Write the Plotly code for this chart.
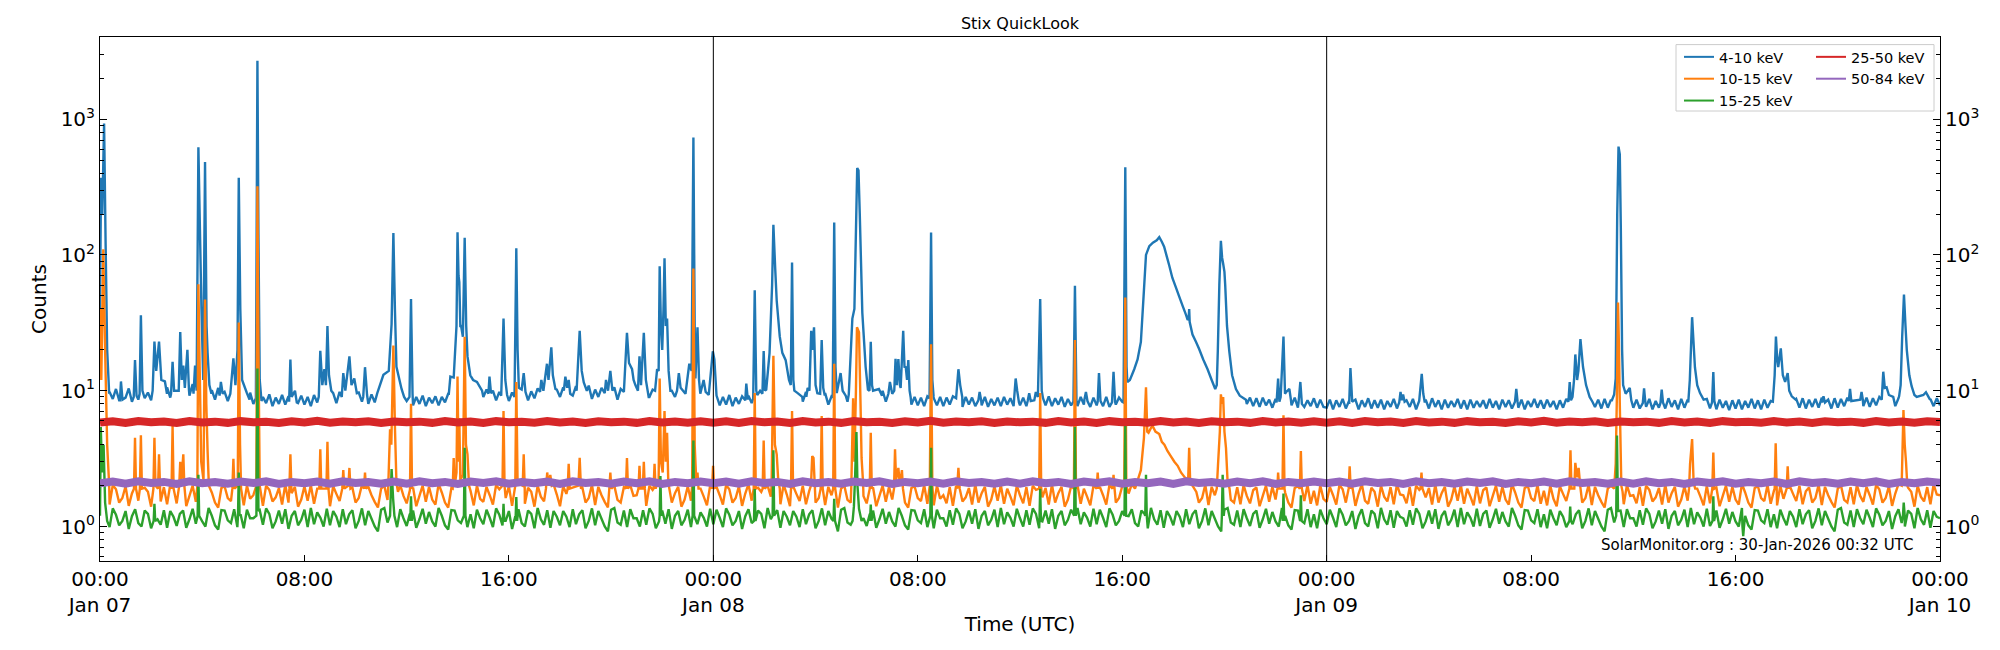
import numpy as np
import pandas as pd
import plotly.graph_objects as go

START = pd.Timestamp("2026-01-07 00:00")
FINE_H = 0.125    # quiet-level sampling for 4-10, 10-15, 15-25 keV
COARSE_H = 0.5    # quiet-level sampling for 25-50, 50-84 keV

# ---------------- 4-10 keV quiet level, every 7.5 min (rows of 3 h) ----------------
blue_base = [
 9.0,10.1,8.4,9.8,8.7,10.3,8.5,9.6,8.9,10.4,8.3,9.9,8.6,10.2,8.8,9.7,8.5,10.5,9.0,11.0,9.4,10.6,8.9,10.2,
 9.1,10.8,8.7,10.0,9.2,11.2,8.9,10.4,9.3,10.7,8.8,10.1,8.6,10.5,8.9,9.8,8.4,10.2,8.7,9.9,8.5,10.0,8.6,9.7,
 8.0,9.2,7.8,9.0,8.1,9.4,7.7,8.9,8.0,9.3,7.9,9.1,7.8,8.8,8.1,9.2,7.9,9.0,7.7,9.3,8.2,9.1,7.8,8.9,
 8.3,9.6,8.1,9.8,8.5,9.5,8.2,10.0,8.6,9.7,8.3,9.9,8.0,9.4,8.2,9.6,7.9,9.3,8.3,9.8,8.7,10.4,9.2,10.8,
 8.4,9.3,7.8,9.0,8.0,9.2,7.7,8.9,8.1,9.1,7.8,9.0,8.2,9.5,10.2,12.0,10.8,12.5,10.4,11.8,10.0,11.4,9.6,10.8,
 9.0,10.2,8.7,10.0,8.5,9.8,8.8,10.1,8.4,9.7,8.6,10.3,8.9,10.0,8.5,9.9,8.8,10.4,9.2,10.9,9.0,10.6,9.4,10.2,
 9.0,10.6,8.8,10.3,9.2,10.8,8.9,10.4,9.4,10.9,8.7,10.2,9.0,10.5,8.8,10.0,9.1,10.6,8.6,10.3,8.9,10.7,9.2,10.4,
 8.8,10.1,8.6,10.5,9.0,10.2,8.7,9.9,8.9,10.4,8.6,10.0,9.0,10.6,8.8,10.3,8.7,10.1,8.9,10.5,8.8,10.2,9.0,10.4,
 8.3,9.2,7.8,9.0,7.9,9.3,7.7,8.9,8.0,9.1,7.8,9.2,8.1,9.0,7.9,9.3,7.8,8.9,8.0,9.2,8.3,9.6,8.6,9.9,
 8.4,9.7,8.5,9.5,8.3,9.8,8.1,9.4,8.0,9.2,8.2,9.6,7.9,9.1,8.1,9.4,8.0,9.5,8.3,9.7,8.4,9.9,8.7,10.3,
 8.6,9.9,8.4,9.7,8.5,10.0,8.3,9.6,8.6,9.8,8.4,9.5,8.2,9.4,7.9,9.0,7.8,8.9,7.7,9.1,7.9,8.8,7.8,9.0,
 7.7,8.9,7.9,9.1,7.8,8.8,7.6,9.0,7.9,8.9,7.7,8.8,7.8,9.0,7.6,8.7,7.8,8.9,7.7,9.0,7.9,8.8,7.7,8.9,
 7.8,8.9,7.7,9.0,7.9,8.8,7.6,8.9,7.8,9.1,7.7,8.8,7.9,9.0,7.6,8.7,7.8,8.9,7.7,9.0,7.9,8.8,7.6,8.9,
 7.8,8.7,7.7,9.0,7.6,8.8,7.9,8.9,8.3,9.0,9.0,9.0,9.0,9.0,9.0,9.0,9.0,9.0,9.0,9.0,9.0,9.0,9.0,9.0,
 9.0,9.0,9.0,9.0,9.0,9.0,9.0,9.0,9.0,9.0,9.0,9.0,9.0,9.0,9.0,9.0,9.0,9.0,9.0,9.0,9.0,9.0,9.0,8.0,
 8.9,7.7,8.8,7.6,8.9,7.8,8.6,7.5,8.7,7.7,8.8,7.6,8.6,7.8,8.9,7.5,8.7,7.6,8.5,7.7,8.8,7.5,8.6,7.6,
 7.5,8.6,7.3,8.5,7.6,8.7,7.4,8.4,7.5,8.6,7.3,8.5,7.6,8.8,7.4,8.5,7.5,8.6,7.3,8.4,7.6,8.7,7.4,8.5,
 7.4,8.5,7.6,8.7,7.3,8.4,7.5,8.6,7.4,8.8,7.6,8.5,7.3,8.6,7.5,8.4,7.6,8.7,7.4,8.5,7.3,8.6,7.5,8.4,
 7.6,8.5,7.4,8.7,7.5,8.4,7.3,8.6,7.6,8.5,7.4,8.8,7.5,8.6,7.3,8.4,7.6,8.7,7.5,8.5,7.4,8.6,7.6,8.4,
 7.3,8.5,7.5,8.7,7.4,8.6,7.6,8.4,7.5,8.8,7.3,8.5,7.6,8.6,7.4,8.7,7.5,8.6,7.7,8.9,7.8,9.1,8.0,8.8,
 7.5,8.6,7.4,8.5,7.6,8.7,7.3,8.4,7.5,8.6,7.4,8.8,7.6,8.5,7.3,8.7,7.5,8.6,7.7,8.9,7.6,8.8,7.8,8.7,
 7.4,8.5,7.3,8.6,7.5,8.4,7.2,8.5,7.4,8.6,7.3,8.4,7.5,8.7,7.4,8.5,7.3,8.6,7.5,8.4,7.4,8.7,7.6,8.6,
 7.8,9.0,7.6,8.7,7.5,8.8,7.4,8.6,7.6,8.7,7.5,8.9,7.6,8.6,7.4,8.8,7.5,8.7,7.7,8.9,7.6,8.8,7.8,8.7,
 7.7,8.9,7.6,8.8,7.8,9.0,7.7,8.9,7.9,9.1,7.7,8.8,7.6,8.9,7.8,8.7,7.7,9.0,7.8,8.9,7.6,8.7,7.7,8.8,
 7.8]

# ---------------- 10-15 keV quiet level (3 h blocks, every 7.5 min) ----------------
oA = [1.52,1.96,1.7,1.45,2.02,1.88,1.5,1.62,1.98,1.42,1.75,2.05,1.55,1.47,1.93,1.8,1.4,2.0,1.66,1.53,1.95,1.46,2.04,1.72]
oB = [1.48,1.85,1.94,1.41,1.68,2.0,1.52,1.96,1.58,1.45,2.06,1.78,1.5,1.38,1.92,1.98,1.62,1.54,2.02,1.47,1.83,1.43,2.0,1.6]
oC = [1.7,1.48,1.95,1.42,2.0,1.86,1.53,1.64,1.92,1.45,2.04,1.5,1.76,1.96,1.4,1.58,1.98,1.55,2.02,1.47,1.9,1.66,1.43,2.0]
oD = [1.41,1.98,1.74,1.54,2.0,1.46,1.82,1.94,1.5,1.62,2.03,1.44,1.96,1.7,1.52,1.38,1.9,2.0,1.57,1.5,1.95,1.46,2.02,1.68]
orange_base = (oA + oB + oC + oD + oB + oA + oD + oC + oA + oD + oB + oC + oC + oA + oD + oB
               + oA + oC + oB + oD + oC + oB + oD + oA + [1.7])

# ---------------- 15-25 keV quiet level (3 h blocks, every 7.5 min) ----------------
gA = [1.04,1.33,1.16,0.99,1.36,1.22,1.02,1.1,1.3,0.96,1.19,1.34,1.06,1.0,1.31,1.24,0.97,1.37,1.13,1.03,1.32,0.98,1.3,1.18]
gB = [1.01,1.24,1.31,0.98,1.13,1.35,1.05,1.28,1.09,1.0,1.37,1.2,1.02,0.95,1.32,1.31,1.11,1.06,1.34,0.99,1.23,0.97,1.33,1.15]
gC = [1.15,1.0,1.32,1.03,1.36,1.24,0.97,1.09,1.31,1.05,1.34,0.96,1.2,1.3,1.02,1.12,1.33,0.99,1.37,1.04,1.27,1.16,1.0,1.35]
gD = [1.02,1.3,1.18,0.99,1.34,1.04,1.23,1.32,0.97,1.1,1.36,1.02,1.3,1.14,1.0,0.92,1.33,1.37,1.07,1.03,1.31,0.99,1.34,1.15]
green_base = (gA + gB + gC + gD + gB + gA + gD + gC + gA + gD + gB + gC + gC + gA + gD + gB
              + gA + gC + gB + gD + gC + gB + gD + gA + [1.15])

# ---------------- 25-50 keV and 50-84 keV quiet level, every 30 min (12 h blocks) ----------------
rA = [5.82,5.96,5.78,5.98,5.85,5.93,5.79,5.99,5.84,5.92,5.8,5.97,5.86,5.91,5.79,5.96,5.83,6.0,5.81,5.93,5.85,5.95,5.78,5.94]
rB = [5.85,5.92,5.8,5.98,5.84,5.94,5.79,5.97,5.87,5.91,5.81,5.99,5.83,5.93,5.79,5.96,5.86,5.92,5.8,5.98,5.84,5.93,5.81,5.95]
red_base = rA + rB + rA + rB + rA + rB + [5.88]
pA = [2.08,2.14,2.07,2.15,2.09,2.13,2.06,2.15,2.08,2.13,2.07,2.14,2.09,2.15,2.06,2.13,2.08,2.14,2.07,2.15,2.09,2.13,2.07,2.14]
pB = [2.07,2.15,2.08,2.13,2.06,2.14,2.09,2.15,2.07,2.13,2.08,2.14,2.06,2.15,2.09,2.13,2.07,2.14,2.08,2.15,2.06,2.13,2.08,2.14]
purple_base = pA + pB + pA + pB + pA + pB + [2.1]

# ---------------- flare / event segments: (hour since Jan 07 00:00, counts) ----------------
blue_events = [
 [(0.0,40),(0.04,370),(0.09,200),(0.16,930),(0.22,120),(0.28,20),(0.36,9.5)],
 [(0.78,8.5),(0.82,11.7),(0.88,8.6)],
 [(1.32,9),(1.37,16.8),(1.43,9.2)],
 [(1.55,9.5),(1.6,36),(1.66,10)],
 [(2.06,10),(2.13,23),(2.2,14),(2.31,23),(2.4,12),(2.54,11.7),(2.62,9.5)],
 [(2.78,9.5),(2.84,16.3),(2.9,10),(3.08,10),(3.14,27),(3.2,12),(3.26,15.3),(3.32,10.5),(3.42,20),(3.48,10.2)],
 [(3.66,9.5),(3.72,15.3),(3.78,10),(3.85,620),(3.91,155),(3.97,40),(4.04,12),(4.11,484),(4.17,30),(4.21,19),(4.28,11),(4.36,9.5)],
 [(4.68,9.2),(4.73,11.6),(4.8,9.5)],
 [(5.1,9.5),(5.22,17.3),(5.3,11),(5.38,20),(5.43,370),(5.49,40),(5.56,12),(5.74,9.7),(5.85,8.6)],
 [(6.1,8.8),(6.16,2690),(6.2,140),(6.25,12),(6.32,8.4)],
 [(7.4,8.3),(7.45,17),(7.5,9),(7.63,10),(7.7,8.2)],
 [(8.56,9),(8.62,19.7),(8.7,11),(8.78,14.4),(8.84,11),(8.9,30),(8.96,13),(9.05,10)],
 [(9.46,9),(9.52,13.5),(9.6,10),(9.76,17.9),(9.84,11),(9.95,12.3),(10.05,9.6)],
 [(10.3,9),(10.37,14.9),(10.45,9.3)],
 [(10.85,9.6),(11.09,13.1),(11.3,14),(11.41,31),(11.48,145),(11.54,40),(11.6,15),(11.8,10.3),(11.9,9)],
 [(12.11,9),(12.17,47.4),(12.23,9.5)],
 [(13.65,9.5),(13.71,12.7),(13.84,12.5),(13.95,30),(13.99,147),(14.03,70),(14.06,63),(14.1,30),(14.13,30),
  (14.2,25),(14.27,134),(14.33,30),(14.38,17.9),(14.49,13),(14.6,12),(14.75,11.6),(14.95,10)],
 [(15.2,9.5),(15.24,12.7),(15.3,9.6)],
 [(15.7,9.2),(15.79,34),(15.86,12),(15.93,9.3)],
 [(16.22,9),(16.29,112),(16.34,20),(16.39,10.5),(16.5,10.2),(16.58,13.5),(16.65,9.8)],
 [(17.22,9.8),(17.27,12),(17.35,10),(17.49,15.8),(17.55,12),(17.66,20.9),(17.72,13),(17.82,10.3)],
 [(18.15,10),(18.21,12.7),(18.28,10.5),(18.34,12),(18.4,9.5)],
 [(18.65,10),(18.77,27.6),(18.85,14),(18.93,11.5),(19.05,10)],
 [(19.75,9.6),(19.8,12),(19.88,10),(19.97,14),(20.05,10)],
 [(20.5,9.8),(20.62,26.7),(20.7,16),(20.82,14.4),(20.88,12),(20.95,11),(21.05,10),(21.11,17.9),(21.17,11),
  (21.28,26.7),(21.36,12),(21.47,9)],
 [(21.72,10),(21.8,14.4),(21.86,14),(21.9,82.6),(21.95,30),(22.0,20),(22.05,40),(22.09,94.6),(22.14,30),
  (22.19,34),(22.25,14),(22.32,10)],
 [(22.58,10),(22.65,13.5),(22.72,10.5),(22.91,9.5),(23.06,15.8),(23.15,14),(23.22,732),(23.27,30),(23.3,12.3),
  (23.38,29.3),(23.44,12),(23.49,9.5),(23.62,12),(23.7,9.8),(23.82,9.3),(23.98,19.5),(24.04,17),(24.12,9.5)],
 [(25.25,8.5),(25.29,11.3),(25.35,8.6)],
 [(25.56,8.8),(25.62,55),(25.68,10),(25.72,9.3),(25.83,10),(25.92,9.5),(25.97,19.6),(26.02,10),(26.07,10.2),
  (26.2,19),(26.3,60),(26.35,167),(26.42,80),(26.48,46),(26.6,25),(26.7,19),(26.83,16.8),(26.96,12),(27.03,11),
  (27.08,87.9),(27.13,12),(27.17,10),(27.3,9.6),(27.48,9)],
 [(27.64,9),(27.69,10.5),(27.76,10),(27.83,27.6),(27.88,20),(27.94,29.3),(28.0,11),(28.07,9.6),(28.18,9.5),
  (28.24,23.6),(28.3,10.5),(28.36,9.2)],
 [(28.67,9),(28.73,173),(28.78,15),(28.83,9.6),(28.98,13.5),(29.06,10),(29.18,9.2)],
 [(29.3,9.4),(29.44,34),(29.52,40),(29.63,437),(29.68,420),(29.73,200),(29.83,37.5),(29.96,15),(30.05,10.2),
  (30.11,10),(30.16,22.9),(30.21,11),(30.25,10),(30.48,10.3),(30.6,9.2)],
 [(30.85,9.5),(30.91,11.6),(31.0,9.5),(31.08,10),(31.13,17.2),(31.18,11),(31.24,17.1),(31.3,11),(31.33,10.5),
  (31.43,27.6),(31.48,15),(31.53,14.9),(31.58,12),(31.63,16.8),(31.68,10),(31.72,9)],
 [(32.46,8.8),(32.52,146),(32.57,12),(32.62,9)],
 [(33.5,8.8),(33.59,14.4),(33.66,11),(33.74,9)],
 [(34.37,8.5),(34.42,9.8),(34.48,8.5)],
 [(35.77,8.7),(35.83,12.3),(35.89,10),(35.96,8.2)],
 [(36.3,8.4),(36.36,9.6),(36.42,8.4),(36.56,8.5),(36.62,9.8),(36.7,9),(36.79,47.4),(36.85,10),(36.9,8.8)],
 [(38.09,8.3),(38.15,59.2),(38.21,8.5)],
 [(38.52,8.6),(38.58,9.8),(38.64,8.4)],
 [(39.04,8.3),(39.09,13.5),(39.15,8.4)],
 [(39.6,8.2),(39.66,13.8),(39.72,8.3)],
 [(40.05,8.2),(40.12,442),(40.17,15),(40.2,11.6),(40.3,12),(40.47,14.4),(40.6,17),(40.73,22.9),(40.85,55),
  (40.93,100),(41.06,116),(41.2,123),(41.35,128),(41.45,135),(41.55,125),(41.64,115),(41.74,98),(41.84,83.6),
  (41.96,68),(42.1,57.7),(42.22,50),(42.36,42.4),(42.5,36),(42.56,33.2),(42.6,34),(42.62,40),(42.64,32),
  (42.75,25.9),(42.88,23),(43.01,20.3),(43.17,17),(43.34,14.4),(43.5,12),(43.64,10.3),(43.7,11),(43.74,19.5),
  (43.8,60),(43.86,127),(43.91,95),(43.95,86),(44.0,75),(44.03,60),(44.1,30),(44.19,19.5),(44.3,13),
  (44.45,10.3),(44.6,9.2),(44.84,8.6)],
 [(46.04,8.2),(46.1,12.3),(46.15,8.3),(46.2,9),(46.31,25.1),(46.37,9.5),(46.42,9.8),(46.54,10.3),(46.6,8.6)],
 [(46.9,8.2),(46.97,11.6),(47.03,8)],
 [(48.88,8),(48.93,14.7),(49.0,8.3)],
 [(50.84,8.2),(50.89,9.8),(50.94,8.5),(50.99,9.4),(51.05,8.3)],
 [(51.62,8.4),(51.72,13.3),(51.78,9.5),(51.84,8.2)],
 [(55.37,8.3),(55.42,10.3),(55.47,8.3)],
 [(57.46,8.3),(57.51,11.6),(57.56,8.5),(57.62,9),(57.68,12),(57.73,18.5),(57.8,12),(57.85,14),(57.93,24),
  (58.03,15),(58.15,11),(58.29,9),(58.4,8.3)],
 [(59.15,8.4),(59.25,9.4),(59.31,12.3),(59.37,200),(59.42,628),(59.47,550),(59.51,160),(59.56,20),(59.6,11),
  (59.7,9.5),(59.86,10.5),(59.92,8.5)],
 [(60.37,8.1),(60.42,10.4),(60.47,8.2)],
 [(61.06,8.1),(61.11,10.2),(61.16,8.2)],
 [(62.15,8.2),(62.21,12),(62.3,34.8),(62.36,22),(62.41,14.9),(62.5,11),(62.61,9.6),(62.75,8.6)],
 [(63.08,8.2),(63.13,13.7),(63.17,8.4)],
 [(65.46,8.3),(65.53,13),(65.58,25.1),(65.63,17),(65.67,14.9),(65.77,20.5),(65.85,13),(65.94,11.6),(66.04,13.5),
  (66.1,10),(66.2,9.1),(66.35,8.6)],
 [(67.39,8.2),(67.44,9.1),(67.5,8.2)],
 [(68.43,8.4),(68.48,10.3),(68.53,8.4),(68.88,8.6),(68.93,9.8),(68.98,8.6)],
 [(69.72,8.6),(69.78,13.8),(69.84,10.5),(69.91,10.6),(70.0,9.3),(70.17,9)],
 [(70.4,9.1),(70.46,11),(70.52,25),(70.59,51),(70.65,30),(70.7,20),(70.8,13),(70.89,10.8),(71.0,9.3),(71.09,9),
  (71.35,9.3),(71.45,9.75),(71.55,9),(71.61,8.6)],
]

orange_events = [
 [(0.0,40),(0.05,12),(0.13,110),(0.2,20),(0.28,4),(0.36,2.0)],
 [(1.33,1.9),(1.37,4.5),(1.41,1.9)],
 [(1.56,1.9),(1.6,4.7),(1.64,1.9)],
 [(2.09,1.9),(2.13,4.5),(2.17,2.0),(2.27,1.9),(2.31,3.4),(2.35,1.9)],
 [(2.8,1.9),(2.84,5.5),(2.88,1.9)],
 [(3.1,2.0),(3.14,3.0),(3.18,2.1),(3.26,3.4),(3.3,2.0)],
 [(3.81,2.0),(3.85,60.7),(3.9,15),(3.96,3),(4.05,2.2),(4.11,46.9),(4.16,8),(4.21,3.6),(4.26,2.0)],
 [(5.18,1.9),(5.22,3.15),(5.26,1.9),(5.39,2),(5.43,31.8),(5.48,4),(5.52,1.9)],
 [(6.12,2),(6.16,321),(6.2,20),(6.25,2)],
 [(7.41,1.9),(7.45,3.4),(7.49,1.9)],
 [(8.58,1.9),(8.62,3.7),(8.66,1.9),(8.86,1.9),(8.9,4.2),(8.94,1.9)],
 [(9.48,1.9),(9.52,2.6),(9.56,1.9),(9.72,2.0),(9.76,2.7),(9.8,1.9)],
 [(10.33,1.9),(10.37,2.5),(10.41,1.9)],
 [(11.28,2),(11.35,5.2),(11.4,4),(11.48,21.5),(11.54,5.5),(11.6,2.1),(11.66,1.8)],
 [(12.13,1.9),(12.17,8),(12.21,1.9)],
 [(13.8,1.9),(13.84,3.2),(13.88,2),(13.95,2.5),(13.99,12.7),(14.03,3),(14.06,6.3),(14.1,2.2),(14.2,2.4),
  (14.27,25),(14.32,4),(14.38,3.4),(14.44,2.0)],
 [(15.75,2),(15.79,7.1),(15.83,2)],
 [(16.25,2),(16.29,11.6),(16.34,2.1),(16.54,2.0),(16.58,3.4),(16.62,1.9)],
 [(17.45,1.9),(17.5,2.5),(17.55,2.0),(17.62,2.4),(17.68,2.0)],
 [(18.3,1.9),(18.34,2.9),(18.38,1.9),(18.72,2.0),(18.77,3.2),(18.82,1.9)],
 [(19.93,1.9),(19.97,2.5),(20.01,1.9)],
 [(20.58,1.9),(20.62,3.2),(20.66,1.9)],
 [(21.07,1.9),(21.11,2.8),(21.15,1.9),(21.24,1.9),(21.28,3.0),(21.32,1.9)],
 [(21.66,1.9),(21.7,2.9),(21.74,1.9),(21.86,2.2),(21.9,12.3),(21.95,3),(22.02,2.5),(22.09,7.1),(22.14,3),
  (22.19,4.9),(22.24,2.0)],
 [(23.17,2),(23.22,79.5),(23.27,4),(23.34,2.0),(23.38,2.5),(23.42,1.9)],
 [(23.95,1.9),(23.99,2.8),(24.03,1.9)],
 [(25.58,1.9),(25.62,9.6),(25.66,1.9)],
 [(25.93,1.9),(25.97,4.3),(26.01,1.9)],
 [(26.28,2.0),(26.35,18.1),(26.41,4),(26.48,3.4),(26.54,2.2),(26.6,1.9)],
 [(27.04,1.9),(27.08,7.1),(27.12,1.9)],
 [(27.82,2.0),(27.87,3.3),(27.92,3.2),(27.97,2.0)],
 [(28.2,1.9),(28.24,6.5),(28.28,1.9)],
 [(28.69,1.9),(28.73,15.8),(28.77,1.9)],
 [(29.4,2.0),(29.47,8.8),(29.52,3),(29.58,10),(29.62,29.3),(29.7,27),(29.76,8),(29.8,3.2),(29.86,2.1)],
 [(30.12,1.9),(30.16,4.9),(30.2,1.9)],
 [(31.07,1.9),(31.11,3.7),(31.15,2.2),(31.24,2.7),(31.3,2.0),(31.38,2.6),(31.42,1.9)],
 [(32.47,2.0),(32.52,22),(32.57,2.0)],
 [(33.54,1.9),(33.59,2.7),(33.64,1.9)],
 [(36.75,1.9),(36.79,9.6),(36.83,1.9)],
 [(38.11,1.9),(38.15,23.6),(38.19,1.9)],
 [(39.0,1.9),(39.04,2.5),(39.08,1.9)],
 [(39.62,1.9),(39.66,2.4),(39.7,1.9)],
 [(40.08,2.0),(40.12,48.6),(40.16,2.0)],
 [(40.5,1.9),(40.73,2.6),(40.85,4.5),(40.93,10.6),(40.98,5),(41.03,4.9),(41.12,5.3),(41.19,5.5),(41.3,5.0),
  (41.45,4.8),(41.55,4.2),(41.65,4.0),(41.77,3.6),(41.9,3.3),(42.04,3.0),(42.17,2.8),(42.3,2.5),(42.45,2.3),
  (42.58,2.2),(42.62,3.8),(42.66,2.1),(42.75,2.0),(42.9,1.8)],
 [(43.7,1.9),(43.75,2.9),(43.82,5),(43.86,9.4),(43.91,8.0),(43.95,9.0),(44.0,5),(44.06,3.8),(44.12,2.2),(44.2,1.9)],
 [(46.07,1.9),(46.1,2.5),(46.14,1.9),(46.27,1.9),(46.31,6.6),(46.35,1.9)],
 [(46.95,1.9),(46.99,3.6),(47.03,1.9)],
 [(48.86,1.9),(48.9,2.78),(48.94,1.9)],
 [(51.67,1.9),(51.71,2.5),(51.75,1.9)],
 [(57.5,1.9),(57.54,3.65),(57.58,1.9),(57.69,1.9),(57.73,2.94),(57.8,2.3),(57.86,2.7),(57.92,2.0)],
 [(59.25,1.9),(59.31,2.9),(59.36,10),(59.4,44.6),(59.44,20),(59.47,8),(59.53,2.0),(59.58,1.8)],
 [(62.18,1.9),(62.22,2.9),(62.3,4.4),(62.36,2.1),(62.42,1.9)],
 [(63.09,1.9),(63.13,3.5),(63.17,1.9)],
 [(65.53,1.9),(65.57,4.1),(65.61,1.9)],
 [(66.0,1.9),(66.04,2.78),(66.08,1.9)],
 [(70.5,2.0),(70.57,7.2),(70.62,4),(70.67,3.0),(70.72,2.0)],
]

green_events = [
 [(0.0,1.2),(0.03,5.4),(0.08,2.5),(0.14,4.0),(0.2,1.5),(0.28,1.1)],
 [(2.1,1.1),(2.13,1.47),(2.16,1.1)],
 [(3.82,1.2),(3.85,2.4),(3.88,1.2)],
 [(5.4,1.2),(5.43,2.5),(5.46,1.2)],
 [(6.12,1.2),(6.16,14.6),(6.2,1.3)],
 [(11.35,1.2),(11.41,2.65),(11.47,1.6),(11.52,1.2)],
 [(12.14,1.1),(12.17,1.67),(12.2,1.1)],
 [(14.24,1.2),(14.27,3.8),(14.3,1.2)],
 [(15.76,1.1),(15.79,1.47),(15.82,1.1)],
 [(16.26,1.1),(16.29,1.65),(16.32,1.1)],
 [(21.9,1.2),(21.93,2.35),(21.96,1.2)],
 [(23.19,1.2),(23.22,4.3),(23.25,1.2)],
 [(25.59,1.1),(25.62,1.89),(25.65,1.1)],
 [(26.32,1.2),(26.35,3.65),(26.38,1.2)],
 [(28.7,1.1),(28.73,1.6),(28.76,1.1)],
 [(29.45,1.1),(29.5,1.4),(29.55,2.4),(29.6,4.97),(29.64,2.0),(29.7,1.35),(29.8,1.1)],
 [(30.13,1.1),(30.16,1.45),(30.19,1.1)],
 [(32.49,1.2),(32.52,3.8),(32.55,1.2)],
 [(36.76,1.1),(36.79,1.9),(36.82,1.1)],
 [(38.12,1.2),(38.15,5.4),(38.18,1.2)],
 [(40.09,1.2),(40.12,5.7),(40.15,1.2)],
 [(40.9,1.2),(40.93,2.4),(40.96,1.2)],
 [(43.9,1.2),(43.93,2.4),(43.97,1.2)],
 [(46.28,1.1),(46.31,1.75),(46.34,1.1)],
 [(46.96,1.1),(46.99,1.7),(47.02,1.1)],
 [(57.5,1.1),(57.53,1.4),(57.56,1.1)],
 [(59.33,1.2),(59.36,4.67),(59.4,1.3)],
 [(63.1,1.1),(63.13,1.67),(63.16,1.1)],
 [(64.27,1.0),(64.3,0.85),(64.33,1.0)],
 [(70.55,1.2),(70.58,1.5),(70.62,1.2)],
]

red_events = []
purple_events = []

labels = ["4-10 keV", "10-15 keV", "15-25 keV", "25-50 keV", "50-84 keV"]
colors = ["#1f77b4", "#ff7f0e", "#2ca02c", "#d62728", "#9467bd"]
bases = [blue_base, orange_base, green_base, red_base, purple_base]
steps = [FINE_H, FINE_H, FINE_H, COARSE_H, COARSE_H]
events = [blue_events, orange_events, green_events, red_events, purple_events]
widths = [2.4, 2.4, 2.4, 8.0, 8.0]   # wide strokes show the dense noise band of the flat channels

tick_hours = list(range(0, 73, 8))
tick_text = ["00:00<br>Jan 07", "08:00", "16:00", "00:00<br>Jan 08", "08:00", "16:00",
             "00:00<br>Jan 09", "08:00", "16:00", "00:00<br>Jan 10"]
day_lines_h = [24, 48]


def build(base, step, evs):
    grid = np.arange(len(base)) * step
    assert abs(grid[-1] - 72) < 1e-9, (len(base), grid[-1])
    keep = np.ones(len(grid), bool)
    pts = []
    for ev in evs:
        t0, t1 = ev[0][0], ev[-1][0]
        keep &= ~((grid >= t0 - 1e-9) & (grid <= t1 + 1e-9))
        pts.extend(ev)
    pts.extend((float(h), v) for h, v, k in zip(grid, base, keep) if k)
    pts.sort(key=lambda p: p[0])
    hrs = np.array([p[0] for p in pts])
    vals = [p[1] for p in pts]
    return START + pd.to_timedelta(hrs, unit="h"), vals


def hx(h):
    return START + pd.Timedelta(hours=h)


fig = go.Figure()
for lab, col, b, st, ev, w in zip(labels, colors, bases, steps, events, widths):
    x, y = build(b, st, ev)
    fig.add_trace(go.Scatter(x=x, y=y, mode="lines", name=lab, showlegend=False,
                             line=dict(color=col, width=w, simplify=False), hoverinfo="skip"))

# legend entries (thin strokes, two columns as in the reference)
for i, (lab, col) in enumerate(zip(labels, colors)):
    fig.add_trace(go.Scatter(x=[None], y=[None], mode="lines", name=lab,
                             legend="legend" if i < 3 else "legend2",
                             line=dict(color=col, width=2), hoverinfo="skip"))

# invisible trace to carry the right-hand mirrored axis
fig.add_trace(go.Scatter(x=[hx(0)], y=[1], yaxis="y2", mode="markers",
                         marker=dict(opacity=0), showlegend=False, hoverinfo="skip"))

YR = [-0.254, 3.605]
minor_vals = [m * 10 ** e for e in range(-1, 4) for m in range(2, 10)]
minor_vals = [v for v in minor_vals if 10 ** YR[0] <= v <= 10 ** YR[1]]
major_vals = [1, 10, 100, 1000]
major_text = ["10<sup>0</sup>", "10<sup>1</sup>", "10<sup>2</sup>", "10<sup>3</sup>"]

yax = dict(type="log", range=YR, tickmode="array", tickvals=major_vals, ticktext=major_text,
           ticks="inside", ticklen=7, tickwidth=1, tickcolor="black",
           minor=dict(tickmode="array", tickvals=minor_vals, ticks="inside", ticklen=4,
                      tickwidth=1, tickcolor="black", showgrid=False),
           showline=True, linecolor="black", linewidth=1, showgrid=False, zeroline=False,
           tickfont=dict(size=20, color="black"))

LEG_Y = 0.9925
fig.update_layout(
    width=2000, height=650,
    margin=dict(l=100, r=60, t=37, b=89),
    paper_bgcolor="white", plot_bgcolor="white",
    font=dict(family="DejaVu Sans", color="black"),
    title=dict(text="Stix QuickLook", xref="paper", x=0.5, xanchor="center",
               yref="container", y=1 - 23 / 650, yanchor="middle", font=dict(size=16)),
    xaxis=dict(type="date", range=[hx(0), hx(72)], tickmode="array",
               tickvals=[hx(h) for h in tick_hours], ticktext=tick_text,
               ticks="inside", ticklen=6, tickwidth=1, tickcolor="black",
               showline=True, mirror=True, linecolor="black", linewidth=1,
               showgrid=False, zeroline=False, tickfont=dict(size=20, color="black"),
               title=dict(text="Time (UTC)", font=dict(size=20), standoff=0)),
    yaxis=dict(**yax, side="left", title=dict(text="Counts", font=dict(size=20), standoff=8)),
    yaxis2=dict(**yax, side="right", overlaying="y", anchor="x"),
    legend=dict(x=(1679 - 100) / 1840, xanchor="left", y=LEG_Y, yanchor="top",
                bgcolor="rgba(0,0,0,0)", borderwidth=0, font=dict(size=14.5),
                tracegroupgap=0),
    legend2=dict(x=(1811 - 100) / 1840, xanchor="left", y=LEG_Y, yanchor="top",
                 bgcolor="rgba(0,0,0,0)", borderwidth=0, font=dict(size=14.5),
                 tracegroupgap=0),
    showlegend=True,
)

for h in day_lines_h:
    fig.add_shape(type="line", xref="x", yref="paper", x0=hx(h), x1=hx(h), y0=0, y1=1,
                  line=dict(color="black", width=1), layer="above")

# legend frame
fig.add_shape(type="rect", xref="paper", yref="paper",
              x0=(1676 - 100) / 1840, x1=(1934 - 100) / 1840,
              y0=1 - (111 - 37) / 524, y1=1 - (44.6 - 37) / 524,
              line=dict(color="#cccccc", width=1), fillcolor="rgba(255,255,255,0.8)", layer="above")

fig.add_annotation(text="SolarMonitor.org : 30-Jan-2026 00:32 UTC", xref="paper", yref="paper",
                   x=(1915 - 100) / 1840, y=1 - (544.6 - 37) / 524, xanchor="right", yanchor="middle",
                   showarrow=False, font=dict(size=15, color="black"))

fig.write_html("out.html")
